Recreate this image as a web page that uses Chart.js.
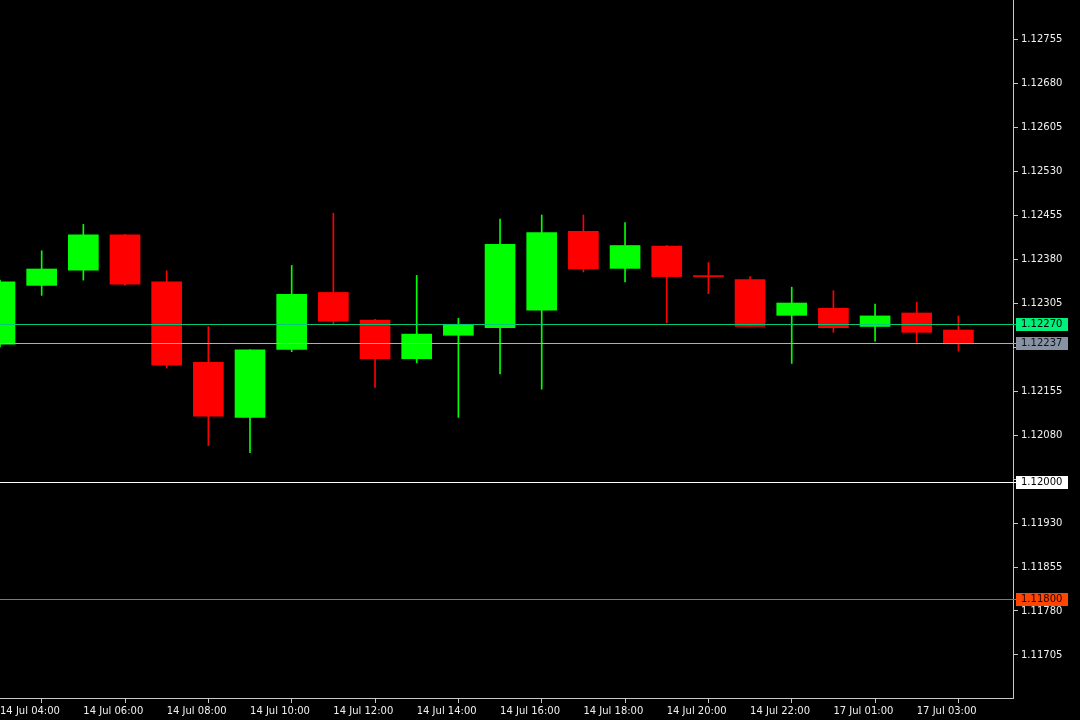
<!DOCTYPE html>
<html>
<head>
<meta charset="utf-8">
<title>EURUSD H1</title>
<script src="https://cdn.jsdelivr.net/npm/chart.js@4.4.1/dist/chart.umd.min.js"></script>
<style>
  html, body { margin: 0; padding: 0; background: #000; }
  #wrap { width: 1080px; height: 720px; }
</style>
</head>
<body>
<div id="wrap"><canvas id="priceChart"></canvas></div>
<script>
// hourly bars, one per label
const times = [
    "14 Jul 04:00", "14 Jul 05:00", "14 Jul 06:00", "14 Jul 07:00", "14 Jul 08:00", "14 Jul 09:00",
    "14 Jul 10:00", "14 Jul 11:00", "14 Jul 12:00", "14 Jul 13:00", "14 Jul 14:00", "14 Jul 15:00",
    "14 Jul 16:00", "14 Jul 17:00", "14 Jul 18:00", "14 Jul 19:00", "14 Jul 20:00", "14 Jul 21:00",
    "14 Jul 22:00", "14 Jul 23:00", "17 Jul 01:00", "17 Jul 02:00", "17 Jul 03:00", "17 Jul 04:00"
];
const opens  = [1.12235, 1.12335, 1.12361, 1.12421, 1.12341, 1.12204, 1.12110, 1.12226, 1.12323, 1.12276, 1.12210, 1.12250,
                1.12263, 1.12293, 1.12427, 1.12364, 1.12402, 1.12350, 1.12345, 1.12284, 1.12296, 1.12265, 1.12288, 1.12259];
const highs  = [1.12344, 1.12394, 1.12439, 1.12422, 1.12360, 1.12265, 1.12225, 1.12369, 1.12458, 1.12277, 1.12352, 1.12279,
                1.12448, 1.12455, 1.12455, 1.12442, 1.12403, 1.12374, 1.12350, 1.12332, 1.12326, 1.12303, 1.12306, 1.12283];
const lows   = [1.12230, 1.12318, 1.12344, 1.12335, 1.12194, 1.12062, 1.12050, 1.12222, 1.12269, 1.12161, 1.12203, 1.12110,
                1.12184, 1.12158, 1.12358, 1.12341, 1.12271, 1.12321, 1.12265, 1.12202, 1.12255, 1.12240, 1.12238, 1.12223];
const closes = [1.12341, 1.12363, 1.12421, 1.12337, 1.12199, 1.12112, 1.12225, 1.12320, 1.12274, 1.12210, 1.12252, 1.12267,
                1.12405, 1.12425, 1.12363, 1.12403, 1.12350, 1.12350, 1.12265, 1.12305, 1.12263, 1.12283, 1.12255, 1.12237];

const priceTicks = [1.11705, 1.11780, 1.11855, 1.11930, 1.12005, 1.12080, 1.12155, 1.12230,
                    1.12305, 1.12380, 1.12455, 1.12530, 1.12605, 1.12680, 1.12755];

// horizontal price levels (marker line, bid, round number, stop)
const levelValues = [1.12270, 1.12237, 1.12000, 1.11800];

const UP = "#00ff00";
const DOWN = "#ff0000";
const AXIS = "#c8c8c8";
const FONT = { family: "'DejaVu Sans', Verdana, sans-serif", size: 10 };

const levelStyle = [
    { line: "#00c878", box: "#00f07c", text: "#000000" },
    { line: "#a8b0c0", box: "#8792a2", text: "#101018" },
    { line: "#ffffff", box: "#ffffff", text: "#000000" },
    { line: "#ff4a10", box: "#ff4500", text: "#200000" }
];

const candleColors = opens.map((o, i) => closes[i] > o ? UP : DOWN);

// a tick label right under a level box is not printed
const hiddenTick = (v) => levelValues.some((l) => Math.abs(l - v) < 0.00006);

const levelPlugin = {
    id: "levels",
    afterDatasetsDraw(chart) {
        const { ctx, chartArea, scales } = chart;
        ctx.save();
        ctx.font = "10px 'DejaVu Sans', Verdana, sans-serif";
        ctx.textBaseline = "middle";
        levelValues.forEach((v, i) => {
            const st = levelStyle[i];
            const py = Math.round(scales.y.getPixelForValue(v)) + 0.5;
            ctx.strokeStyle = st.line;
            ctx.lineWidth = 1;
            ctx.beginPath();
            ctx.moveTo(chartArea.left, py);
            ctx.lineTo(chartArea.right + 3, py);
            ctx.stroke();
            ctx.fillStyle = st.box;
            ctx.fillRect(chartArea.right + 3, Math.round(py - 7), 52, 13);
            ctx.fillStyle = st.text;
            ctx.fillText(v.toFixed(5), chartArea.right + 8, py);
        });
        ctx.restore();
    }
};

const ctx = document.getElementById("priceChart").getContext("2d");
const priceChart = new Chart(ctx, {
    type: "bar",
    data: {
        datasets: [
            {
                label: "body",
                data: opens.map((o, i) => ({ x: i, y: [o, closes[i]] })),
                backgroundColor: candleColors,
                borderWidth: 0,
                barThickness: 30,
                minBarLength: 1,
                grouped: false,
                order: 1
            },
            {
                label: "wick",
                data: lows.map((l, i) => ({ x: i, y: [l, highs[i]] })),
                backgroundColor: candleColors,
                borderWidth: 0,
                barThickness: 1,
                grouped: false,
                order: 2
            }
        ]
    },
    options: {
        responsive: true,
        maintainAspectRatio: false,
        animation: false,
        layout: { padding: 0 },
        plugins: {
            legend: { display: false },
            tooltip: { enabled: false }
        },
        scales: {
            x: {
                type: "linear",
                offset: false,
                min: 0,
                max: 24.31,
                grid: { drawOnChartArea: false, drawTicks: true, tickLength: 5, color: AXIS },
                border: { display: true, color: AXIS, width: 1 },
                ticks: {
                    autoSkip: false,
                    maxRotation: 0,
                    align: "start",
                    padding: 2,
                    color: "#f0f0f0",
                    font: FONT,
                    callback: (value) => times[value]
                },
                afterBuildTicks: (scale) => {
                    scale.ticks = times.map((t, i) => ({ value: i })).filter((t) => t.value % 2 === 0);
                },
                afterFit: (scale) => {
                    scale.height = 22;
                    scale.paddingLeft = 0;
                    scale.paddingRight = 0;
                }
            },
            y: {
                position: "right",
                min: 1.116317,
                max: 1.128215,
                grid: { drawOnChartArea: false, drawTicks: true, tickLength: 5, color: AXIS },
                border: { display: true, color: AXIS, width: 1 },
                ticks: {
                    padding: 3,
                    color: "#f0f0f0",
                    font: FONT,
                    callback: (value) => hiddenTick(value) ? "" : Number(value).toFixed(5)
                },
                afterBuildTicks: (scale) => {
                    scale.ticks = priceTicks.map((v) => ({ value: v }));
                },
                afterFit: (scale) => {
                    scale.width = 67;
                    scale.paddingTop = 0;
                    scale.paddingBottom = 0;
                }
            }
        }
    },
    plugins: [levelPlugin]
});
</script>
</body>
</html>
